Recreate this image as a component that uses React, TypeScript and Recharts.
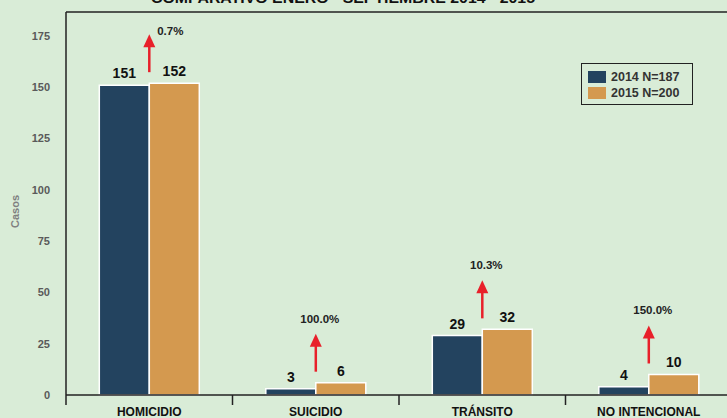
import React from 'react';
import { BarChart, Bar, XAxis, YAxis, Legend, LabelList, ReferenceLine, Customized } from 'recharts';

const categories = ['HOMICIDIO', 'SUICIDIO', 'TRÁNSITO', 'NO INTENCIONAL'];
const cases2014 = [151, 3, 29, 4];
const cases2015 = [152, 6, 32, 10];
const changeLabels = ['0.7%', '100.0%', '10.3%', '150.0%'];
const yTicks = [0, 25, 50, 75, 100, 125, 150, 175];
const seriesNames = ['2014 N=187', '2015 N=200'];
const Y_MAX = 186.7;

const FONT = '"Liberation Sans", Arial, sans-serif';
const BG = '#d9ecd7';
const NAVY = '#23435f';
const ORANGE = '#d4994f';
const RED = '#e8202a';

const CHART_W = 745;
const CHART_H = 418;
const MARGIN = { top: 12, right: 13, bottom: 0, left: 0 };
const Y_AXIS_W = 66;
const PLOT_W = CHART_W - MARGIN.left - MARGIN.right - Y_AXIS_W;
const HALF_BAND = PLOT_W / categories.length / 2;

const data = categories.map((name, i) => ({
  name,
  y2014: cases2014[i],
  y2015: cases2015[i],
  change: changeLabels[i],
}));

const CategoryTick = (props: any) => {
  const { x, y, payload } = props;
  return (
    <g>
      <line x1={x - HALF_BAND} y1={y} x2={x - HALF_BAND} y2={y + 10} stroke="#222" strokeWidth={1.5} />
      <text x={x} y={y + 20.5} textAnchor="middle" fontFamily={FONT} fontSize={12} fontWeight="bold" fill="#111">
        {payload.value}
      </text>
    </g>
  );
};

const ChangeArrow = (props: any) => {
  const { x, y, value } = props;
  const cx = Number(x);
  const bottom = Number(y) - 11;
  const top = bottom - 38;
  let lx = cx + 4;
  let ly = top - 15;
  if (ly < 27) {
    lx = cx + 21;
    ly = top - 3;
  }
  return (
    <g>
      <line x1={cx} y1={top + 12} x2={cx} y2={bottom} stroke={RED} strokeWidth={2.5} />
      <polygon points={`${cx},${top} ${cx - 6},${top + 13} ${cx + 6},${top + 13}`} fill={RED} />
      <text x={lx} y={ly} textAnchor="middle" dominantBaseline="central" fontFamily={FONT} fontSize={11.5} fontWeight="bold" fill="#222">
        {value}
      </text>
    </g>
  );
};

const LegendBox = () => (
  <div
    style={{
      border: '1.5px solid #222',
      boxSizing: 'border-box',
      width: 112,
      height: 42,
      paddingTop: 5,
      paddingLeft: 6,
      fontFamily: FONT,
      fontWeight: 'bold',
      fontSize: 12.5,
      color: '#333',
    }}
  >
    {seriesNames.map((s, i) => (
      <div key={s} style={{ display: 'flex', alignItems: 'center', height: 16 }}>
        <span style={{ display: 'inline-block', width: 18, height: 12, background: i === 0 ? NAVY : ORANGE, marginRight: 5 }} />
        <span>{s}</span>
      </div>
    ))}
  </div>
);

const YLabel = (props: any) => {
  const { viewBox } = props;
  const cy = viewBox.y + viewBox.height / 2 + 8;
  return (
    <text x={15} y={cy} transform={`rotate(-90, 15, ${cy})`} textAnchor="middle" dominantBaseline="central"
      fontFamily={FONT} fontSize={11} fontWeight="bold" fill="#808080">
      Casos
    </text>
  );
};

export default function App() {
  return (
    <div style={{ position: 'absolute', left: 0, top: 0, width: 727, height: 418, overflow: 'hidden', background: BG }}>
      <BarChart width={CHART_W} height={CHART_H} data={data} margin={MARGIN} barCategoryGap="20%" barGap={0}>
        <Customized
          component={
            <text x={343} y={3} textAnchor="middle" fontFamily={FONT} fontSize={15} fontWeight="bold" fill="#111"
              textLength={384} lengthAdjust="spacingAndGlyphs">
              COMPARATIVO ENERO - SEPTIEMBRE 2014 - 2015
            </text>
          }
        />
        <XAxis dataKey="name" height={23} tickSize={0} tickMargin={0} tickLine={false}
          axisLine={{ stroke: '#222', strokeWidth: 1.5 }} tick={<CategoryTick />} interval={0} />
        <YAxis width={Y_AXIS_W} domain={[0, Y_MAX]} ticks={yTicks} tickSize={0} tickMargin={16} tickLine={false}
          axisLine={{ stroke: '#222', strokeWidth: 1.5 }}
          tick={{ fontFamily: FONT, fontSize: 11, fontWeight: 'bold', fill: '#5a5a5a' }}
          label={<YLabel />} />
        <ReferenceLine y={Y_MAX} stroke="#222" strokeWidth={1.5} />
        <Legend layout="horizontal" verticalAlign="middle" align="center" content={<LegendBox />}
          wrapperStyle={{ left: 581, top: 63, width: 112, height: 42 }} />
        <Bar dataKey="y2014" name={seriesNames[0]} fill={NAVY} stroke="#fff" strokeWidth={1.5} isAnimationActive={false}>
          <LabelList dataKey="y2014" position="top" offset={7} fontFamily={FONT} fontSize={14} fontWeight="bold" fill="#111" />
        </Bar>
        <Bar dataKey="y2015" name={seriesNames[1]} fill={ORANGE} stroke="#fff" strokeWidth={1.5} isAnimationActive={false}>
          <LabelList dataKey="y2015" position="top" offset={7} fontFamily={FONT} fontSize={14} fontWeight="bold" fill="#111" />
          <LabelList dataKey="change" content={<ChangeArrow />} />
        </Bar>
      </BarChart>
    </div>
  );
}
